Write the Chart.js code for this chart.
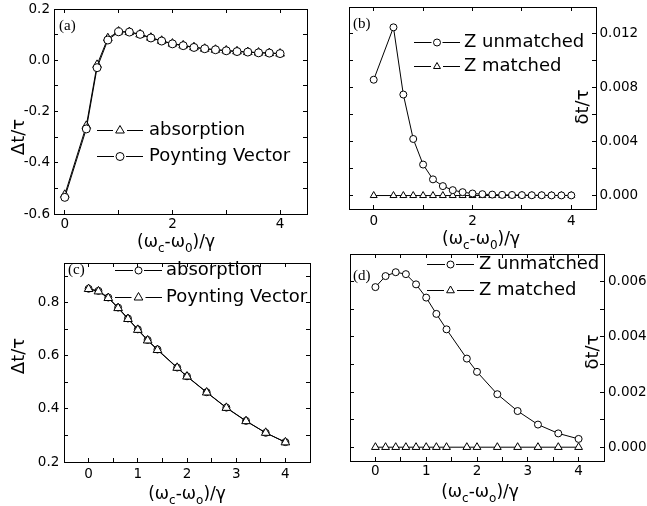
<!DOCTYPE html>
<html>
<head>
<meta charset="utf-8">
<script src="https://cdn.jsdelivr.net/npm/chart.js"></script>
<style>
  body { margin: 0; background: #fff; }
  #wrap { position: relative; width: 647px; height: 506px; overflow: hidden; }
  canvas { position: absolute; }
</style>
</head>
<body>
<div id="wrap">
  <canvas id="chartA" width="323" height="256" style="left:0;top:0"></canvas>
  <canvas id="chartB" width="324" height="256" style="left:323px;top:0"></canvas>
  <canvas id="chartC" width="323" height="256" style="left:0;top:250px"></canvas>
  <canvas id="chartD" width="324" height="256" style="left:323px;top:250px"></canvas>
</div>
<script>
// ---- data ----

// (a) delay vs detuning
const xA = [0, 0.4, 0.6, 0.8, 1.0, 1.2, 1.4, 1.6, 1.8, 2.0, 2.2, 2.4, 2.6, 2.8, 3.0, 3.2, 3.4, 3.6, 3.8, 4.0];
const absorptionA = [-0.525, -0.256, -0.018, 0.086, 0.112, 0.110, 0.101, 0.088, 0.076, 0.065, 0.058, 0.051, 0.045, 0.041, 0.038, 0.035, 0.032, 0.030, 0.028, 0.026];
const poyntingA = [-0.535, -0.268, -0.029, 0.079, 0.111, 0.110, 0.101, 0.087, 0.075, 0.064, 0.057, 0.050, 0.045, 0.041, 0.037, 0.034, 0.032, 0.029, 0.028, 0.026];

// (b) difference, impedance matched / unmatched
const xB = [0, 0.4, 0.6, 0.8, 1.0, 1.2, 1.4, 1.6, 1.8, 2.0, 2.2, 2.4, 2.6, 2.8, 3.0, 3.2, 3.4, 3.6, 3.8, 4.0];
const unmatchedB = [0.0086, 0.01249, 0.0075, 0.0042, 0.0023, 0.0012, 0.0007, 0.0004, 0.00025, 0.00015, 0.0001, 0.00007, 0.00005, 0.00004, 0.00003, 0.00002, 0.00002, 0.00001, 0.00001, 0.00001];
const matchedB = [0, 0, 0, 0, 0, 0, 0, 0, 0, 0, 0, 0, 0, 0, 0, 0, 0, 0, 0, 0];

// (c)
const xC = [0, 0.2, 0.4, 0.6, 0.8, 1.0, 1.2, 1.4, 1.8, 2.0, 2.4, 2.8, 3.2, 3.6, 4.0];
const absorptionC = [0.853, 0.845, 0.820, 0.782, 0.741, 0.700, 0.660, 0.624, 0.556, 0.523, 0.463, 0.405, 0.355, 0.310, 0.275];
const poyntingC = [0.852, 0.843, 0.818, 0.780, 0.739, 0.698, 0.658, 0.622, 0.555, 0.522, 0.462, 0.404, 0.354, 0.310, 0.274];

// (d)
const xD = [0, 0.2, 0.4, 0.6, 0.8, 1.0, 1.2, 1.4, 1.8, 2.0, 2.4, 2.8, 3.2, 3.6, 4.0];
const unmatchedD = [0.0058, 0.0062, 0.00634, 0.00627, 0.0059, 0.00542, 0.00483, 0.00427, 0.00321, 0.00273, 0.00192, 0.00131, 0.00082, 0.0005, 0.0003];
const matchedD = [0, 0, 0, 0, 0, 0, 0, 0, 0, 0, 0, 0, 0, 0, 0];

// ticks and their labels ('' = minor tick)
const xTicksAB = [0, 1, 2, 3, 4];
const xLabelsAB = ['0', '', '2', '', '4'];
const xTicksCD = [0, 0.5, 1, 1.5, 2, 2.5, 3, 3.5, 4];
const xLabelsCD = ['0', '', '1', '', '2', '', '3', '', '4'];
const yTicksA = [-0.6, -0.5, -0.4, -0.3, -0.2, -0.1, 0, 0.1, 0.2];
const yLabelsA = ['-0.6', '', '-0.4', '', '-0.2', '', '0.0', '', '0.2'];
const yTicksB = [0, 0.002, 0.004, 0.006, 0.008, 0.010, 0.012];
const yLabelsB = ['0.000', '', '0.004', '', '0.008', '', '0.012'];
const yTicksC = [0.2, 0.3, 0.4, 0.5, 0.6, 0.7, 0.8, 0.9];
const yLabelsC = ['0.2', '', '0.4', '', '0.6', '', '0.8', ''];
const yTicksD = [0, 0.001, 0.002, 0.003, 0.004, 0.005, 0.006];
const yLabelsD = ['0.000', '', '0.002', '', '0.004', '', '0.006'];

Chart.defaults.font.family = 'DejaVu Sans';
Chart.defaults.color = '#000';

// one axis of the frame: inward ticks, fixed box size so the frame sits where it should
function axis(pos, min, max, ticks, labels, size, pad) {
    const horizontal = (pos === 'top' || pos === 'bottom');
    return {
        type: 'linear',
        position: pos,
        min: min,
        max: max,
        bounds: 'data',
        border: { display: true, color: '#000', width: 1 },
        grid: { drawOnChartArea: false, drawTicks: true, tickLength: -4, color: '#000', lineWidth: 1 },
        ticks: {
            display: !!labels,
            autoSkip: false,
            maxRotation: 0,
            minRotation: 0,
            padding: pad || 0,
            color: '#000',
            font: { family: 'DejaVu Sans', size: 13.5 },
            callback: function (v, i) { return labels ? labels[i] : ''; }
        },
        afterBuildTicks: function (s) {
            s.ticks = ticks.map(v => ({ value: v }));
        },
        afterFit: function (s) {
            if (horizontal) s.height = size; else s.width = size;
            s.paddingTop = 0; s.paddingBottom = 0; s.paddingLeft = 0; s.paddingRight = 0;
        }
    };
}

function series(label, xs, ys, marker, r, order) {
    return {
        label: label,
        data: xs.map((x, i) => ({ x: x, y: ys[i] })),
        borderColor: '#000',
        borderWidth: 1,
        pointStyle: marker,
        pointRadius: r,
        pointBorderWidth: 1,
        pointBorderColor: '#000',
        pointBackgroundColor: '#fff',
        tension: 0,
        order: order
    };
}

function marker(ctx, style, r, x, y) {
    if (Chart.helpers && Chart.helpers.drawPoint) {
        Chart.helpers.drawPoint(ctx, { pointStyle: style, radius: r, borderWidth: 1, rotation: 0 }, x, y);
        return;
    }
    ctx.beginPath();
    if (style === 'triangle') {
        ctx.moveTo(x, y - r);
        ctx.lineTo(x + r * 0.866, y + r / 2);
        ctx.lineTo(x - r * 0.866, y + r / 2);
        ctx.closePath();
    } else {
        ctx.arc(x, y, r, 0, Math.PI * 2);
    }
    ctx.fill();
    ctx.stroke();
}

// x title with subscripts: parts = [text, isSubscript]
function xTitle(ctx, parts, cx, base) {
    const big = '17px "DejaVu Sans"';
    const small = '12px "DejaVu Sans"';
    let w = 0;
    parts.forEach(p => { ctx.font = p[1] ? small : big; w += ctx.measureText(p[0]).width; });
    let x = cx - w / 2;
    ctx.textAlign = 'left';
    ctx.textBaseline = 'alphabetic';
    parts.forEach(p => {
        ctx.font = p[1] ? small : big;
        ctx.fillText(p[0], x, p[1] ? base + 5 : base);
        x += ctx.measureText(p[0]).width;
    });
}

// panel letter, axis titles and the in-plot legend
const decor = {
    id: 'decor',
    afterDraw(chart, args, o) {
        const ctx = chart.ctx;
        ctx.save();
        ctx.fillStyle = '#000';

        ctx.font = '15px "Liberation Serif"';
        ctx.textAlign = 'left';
        ctx.textBaseline = 'alphabetic';
        ctx.fillText(o.tag[0], o.tag[1], o.tag[2]);

        xTitle(ctx, o.xTitle, o.xPos[0], o.xPos[1]);

        ctx.save();
        ctx.translate(o.yPos[0], o.yPos[1]);
        ctx.rotate(-Math.PI / 2);
        ctx.font = '18px "DejaVu Sans"';
        ctx.textAlign = 'center';
        ctx.textBaseline = 'middle';
        ctx.fillText(o.yTitle, 0, 0);
        ctx.restore();

        // legend: short dash, marker, short dash, then the label
        const lg = o.legend;
        lg.items.forEach(function (idx, i) {
            const ds = chart.data.datasets[idx];
            const y = Math.round(lg.rows[i]) + 0.5;
            const cx = (lg.x0 + lg.x1) / 2;
            const gap = ds.pointRadius + 2;
            ctx.strokeStyle = '#000';
            ctx.lineWidth = 1;
            ctx.beginPath();
            ctx.moveTo(lg.x0, y);
            ctx.lineTo(cx - gap, y);
            ctx.moveTo(cx + gap, y);
            ctx.lineTo(lg.x1, y);
            ctx.stroke();
            ctx.fillStyle = '#fff';
            marker(ctx, ds.pointStyle, ds.pointRadius, cx, y);
            ctx.fillStyle = '#000';
            ctx.font = '18px "DejaVu Sans"';
            ctx.textAlign = 'left';
            ctx.textBaseline = 'middle';
            ctx.fillText(ds.label, lg.tx, lg.rows[i]);
        });
        ctx.restore();
    }
};

function panel(id, datasets, scales, deco) {
    return new Chart(document.getElementById(id), {
        type: 'line',
        data: { datasets: datasets },
        options: {
            responsive: false,
            animation: false,
            events: [],
            layout: { padding: 0, autoPadding: false },
            scales: scales,
            plugins: { legend: { display: false }, tooltip: { enabled: false }, decor: deco }
        },
        plugins: [decor]
    });
}

const titleZero = [['(ω', 0], ['c', 1], ['-ω', 0], ['0', 1], [')/γ', 0]];
const titleO = [['(ω', 0], ['c', 1], ['-ω', 0], ['o', 1], [')/γ', 0]];

// (a)
panel('chartA', [
    series('absorption', xA, absorptionA, 'triangle', 5, 1),
    series('Poynting Vector', xA, poyntingA, 'circle', 4, 0)
], {
    x: axis('bottom', -0.2, 4.5, xTicksAB, xLabelsAB, 42, 6),
    x2: axis('top', -0.2, 4.5, xTicksAB, null, 9),
    y: axis('left', -0.6, 0.2, yTicksA, yLabelsA, 54, 8),
    y2: axis('right', -0.6, 0.2, yTicksA, null, 16)
}, {
    tag: ['(a)', 59, 30],
    xTitle: titleZero, xPos: [176, 247],
    yTitle: 'Δt/τ', yPos: [19, 137],
    legend: { items: [0, 1], rows: [130, 156], x0: 97, x1: 143, tx: 149 }
});

// (b)
panel('chartB', [
    series('Z unmatched', xB, unmatchedB, 'circle', 3.5, 0),
    series('Z matched', xB, matchedB, 'triangle', 4, 1)
], {
    x: axis('bottom', -0.5, 4.5, xTicksAB, xLabelsAB, 47, 8),
    x2: axis('top', -0.5, 4.5, xTicksAB, null, 7),
    y: axis('left', -0.001, 0.014, yTicksB, null, 26),
    y2: axis('right', -0.001, 0.014, yTicksB, yLabelsB, 51, 7.5)
}, {
    tag: ['(b)', 30, 28],
    xTitle: titleZero, xPos: [158, 244],
    yTitle: 'δt/τ', yPos: [260, 107],
    legend: { items: [0, 1], rows: [42, 66], x0: 91, x1: 137, tx: 141 }
});

// (c)
panel('chartC', [
    series('absorption', xC, absorptionC, 'circle', 3.5, 1),
    series('Poynting Vector', xC, poyntingC, 'triangle', 5, 0)
], {
    x: axis('bottom', -0.5, 4.5, xTicksCD, xLabelsCD, 44, 8.5),
    x2: axis('top', -0.5, 4.5, xTicksCD, null, 13),
    y: axis('left', 0.2, 0.95, yTicksC, yLabelsC, 64, 8.7),
    y2: axis('right', 0.2, 0.95, yTicksC, null, 13)
}, {
    tag: ['(c)', 68, 24],
    xTitle: titleO, xPos: [187, 249],
    yTitle: 'Δt/τ', yPos: [19, 106],
    legend: { items: [0, 1], rows: [20, 47], x0: 115, x1: 162, tx: 166 }
});

// (d)
panel('chartD', [
    series('Z unmatched', xD, unmatchedD, 'circle', 3.5, 0),
    series('Z matched', xD, matchedD, 'triangle', 4.5, 1)
], {
    x: axis('bottom', -0.5, 4.5, xTicksCD, xLabelsCD, 45, 6.3),
    x2: axis('top', -0.5, 4.5, xTicksCD, null, 4),
    y: axis('left', -0.0005, 0.007, yTicksD, null, 27),
    y2: axis('right', -0.0005, 0.007, yTicksD, yLabelsD, 43, 8)
}, {
    tag: ['(d)', 30, 30],
    xTitle: titleO, xPos: [157, 247],
    yTitle: 'δt/τ', yPos: [270, 102],
    legend: { items: [0, 1], rows: [14, 40], x0: 104, x1: 151, tx: 156 }
});
</script>
</body>
</html>
